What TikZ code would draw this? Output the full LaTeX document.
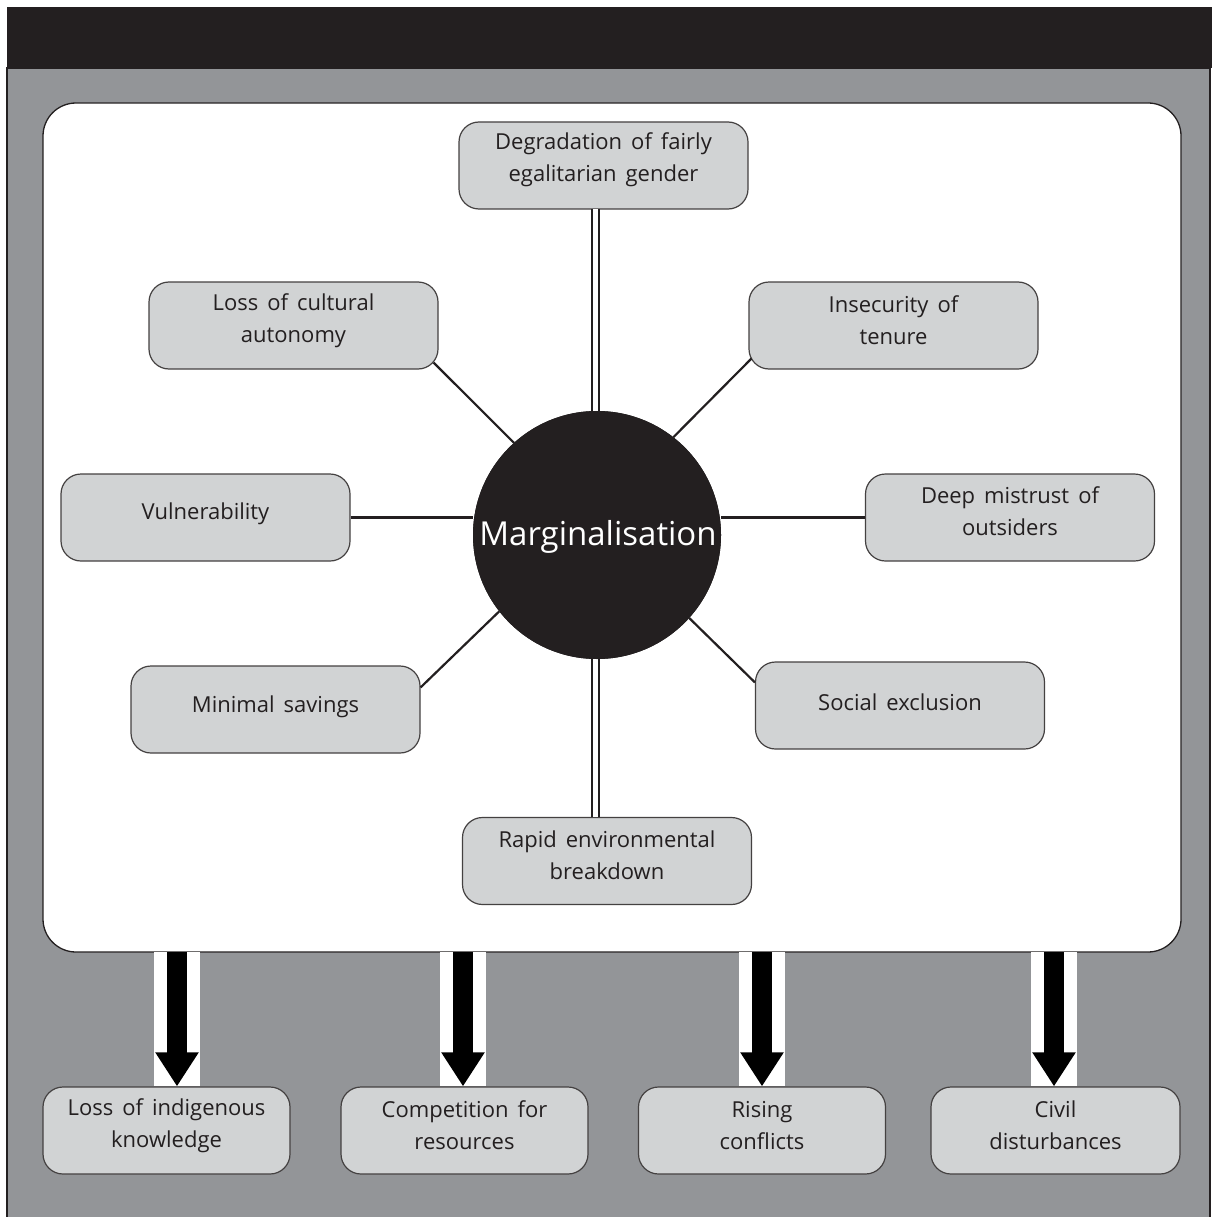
\documentclass[tikz,border=0pt]{standalone}
\usepackage{fontspec}
\setmainfont{Open Sans}
\usetikzlibrary{arrows.meta,calc}
\definecolor{ink}{HTML}{231F20}
\definecolor{framegray}{HTML}{939598}
\definecolor{boxfill}{HTML}{D1D3D4}
\newcommand{\lblfont}{\fontsize{22}{32}\selectfont\spaceskip=9pt plus 1pt}
\begin{document}
\begin{tikzpicture}[x=1pt,y=-1pt,
  box/.style={draw=ink!85, line width=1.2pt, fill=boxfill, rounded corners=20pt, minimum width=289pt, minimum height=87pt, inner sep=0pt},
  sbox/.style={box, minimum width=247pt},
  lbl/.style={text=ink, align=center, inner sep=0pt, font=\lblfont},
  conn/.style={draw=ink, line width=2.2pt},
  dbl/.style={draw=ink, line width=2pt, double=white, double distance=4.5pt},
  bigarrow/.style={draw=black, line width=20pt, -{Triangle[width=41pt,length=34pt]}},
]
\useasboundingbox (0,0) rectangle (1212,1217);
\fill[white] (0,0) rectangle (1212,1217);
% frame
\filldraw[fill=framegray, draw=ink, line width=1.5pt] (7,68) rectangle (1210,1225);
\fill[ink] (7,7) rectangle (1212,68);
% panel
\node[draw=ink, line width=1.3pt, fill=white, rounded corners=33pt, minimum width=1138pt, minimum height=849pt, inner sep=0pt] (panel) at (612,527.5) {};

% centre
\node[circle, fill=ink, minimum size=248pt, inner sep=0pt] (c) at (597,535) {};

% boxes
\node[box] (top) at (603.5,165.5) {};
\node[box] (cult) at (293.5,325.5) {};
\node[box] (ins) at (893.5,325.5) {};
\node[box] (vul) at (205.5,517.5) {};
\node[box] (mis) at (1010,517.5) {};
\node[box] (sav) at (275.5,709.5) {};
\node[box] (soc) at (900,705.5) {};
\node[box] (rap) at (607,861) {};

% connectors
\draw[dbl] (595.5,209) coordinate (tdA) -- (tdA |- c.north);
\draw[dbl] (595.5,817) coordinate (bdA) -- (bdA |- c.south);
\draw[conn] ($(cult.south east)+(-5,-7)$) -- (c.132);
\draw[conn] ($(ins.south west)+(3,-11)$) -- (c.52);
\draw[conn] (vul.east) -- (vul.east -| c.west);
\draw[conn] (mis.west) -- (mis.west -| c.east);
\draw[conn] ($(sav.north east)+(0,22)$) -- (c.218);
\draw[conn] ($(soc.north west)+(0,21)$) -- (c.318);

% redraw circle on top
\node[circle, fill=ink, minimum size=248pt, inner sep=0pt] (c2) at (c) {};
\node[text=white, inner sep=0pt, font=\fontsize{33}{40}\selectfont] (ct) at (598,537) {Marginalisation};

% labels
\node[lbl] (topt) at ($(top.center)+(0,-6)$) {Degradation of fairly\\egalitarian gender};
\node[lbl] (cultt) at ($(cult.center)+(0,-5)$) {Loss of cultural\\autonomy};
\node[lbl] (inst) at ($(ins.center)+(0,-5)$) {Insecurity of\\tenure};
\node[lbl] (vult) at ($(vul.center)+(0,-4)$) {Vulnerability};
\node[lbl] (mist) at ($(mis.center)+(0,-6)$) {Deep mistrust of\\outsiders};
\node[lbl] (savt) at ($(sav.center)+(0,-3)$) {Minimal savings};
\node[lbl] (soct) at ($(soc.center)+(0,-3)$) {Social exclusion};
\node[lbl] (rapt) at ($(rap.center)+(0,-6)$) {Rapid environmental\\breakdown};

% bottom boxes
\node[sbox] (b1) at (166.5,1130.5) {};
\node[sbox] (b2) at (464.5,1130.5) {};
\node[sbox] (b3) at (762,1130.5) {};
\node[sbox, minimum width=249pt] (b4) at (1055.5,1130.5) {};
\node[lbl] (b1t) at ($(b1.center)+(0,-5)$) {Loss of indigenous\\knowledge};
\node[lbl] (b2t) at ($(b2.center)+(0,-5)$) {Competition for\\resources};
\node[lbl] (b3t) at ($(b3.center)+(0,-5)$) {Rising\\conflicts};
\node[lbl] (b4t) at ($(b4.center)+(0,-5)$) {Civil\\disturbances};

% arrows
\foreach \i/\x in {1/177,2/463,3/762,4/1054}{
  \coordinate (a\i) at (\x,952);
  \fill[white] ($(a\i)+(-23,0)$) rectangle ($(a\i |- b\i.north)+(23,0)$);
  \draw[bigarrow] (a\i) -- (a\i |- b\i.north);
}
\end{tikzpicture}
\end{document}
